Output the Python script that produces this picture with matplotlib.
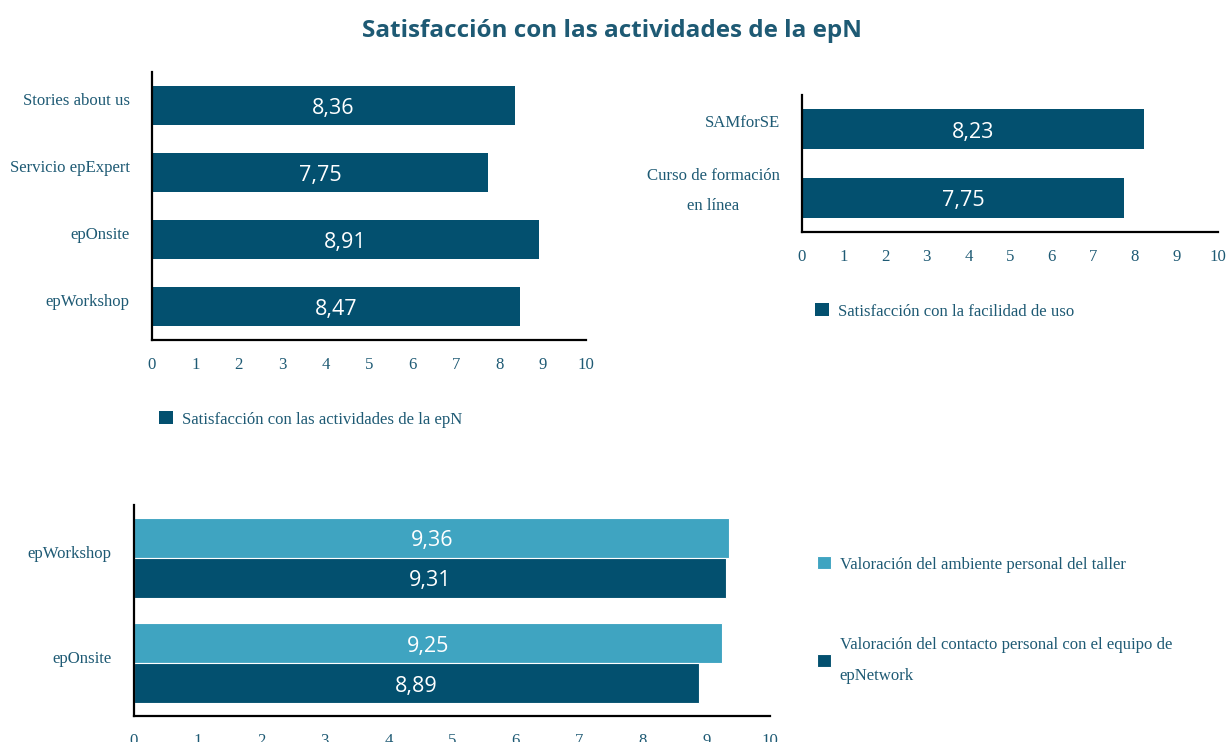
import matplotlib
matplotlib.use("Agg")
import matplotlib.pyplot as plt
from matplotlib.transforms import ScaledTranslation
import numpy as np

# data
act_labels = ["Stories about us", "Servicio epExpert", "epOnsite", "epWorkshop"]
act_values = [8.36, 7.75, 8.91, 8.47]

uso_labels = ["SAMforSE", "Curso de formación\nen línea"]
uso_values = [8.23, 7.75]

taller_labels = ["epWorkshop", "epOnsite"]
ambiente_values = [9.36, 9.25]
contacto_values = [9.31, 8.89]

title = "Satisfacción con las actividades de la epN"
leg1 = "Satisfacción con las actividades de la epN"
leg2 = "Satisfacción con la facilidad de uso"
leg3a = "Valoración del ambiente personal del taller"
leg3b = "Valoración del contacto personal con el equipo de\nepNetwork"

dark = "#03506f"
light = "#3fa4c1"
txt = "#1e5a74"
serif = "Liberation Serif"
sans = "Open Sans"
fs = 12.1

W, H = 1226, 742
fig = plt.figure(figsize=(W / 100, H / 100), dpi=100)


def axes_px(l, t, r, b):
    return fig.add_axes([l / W, 1 - b / H, (r - l) / W, (b - t) / H])


def shift(artist, dy_px):
    artist.set_transform(artist.get_transform() +
                         ScaledTranslation(0, dy_px / 100, fig.dpi_scale_trans))


def style(ax, n, labels, up=6):
    ax.set_xlim(0, 10)
    ax.set_ylim(n - 0.5, -0.5)
    ax.set_xticks(range(11))
    ax.set_yticks(np.arange(n), labels)
    for s in ["top", "right"]:
        ax.spines[s].set_visible(False)
    for s in ["left", "bottom"]:
        ax.spines[s].set_linewidth(1.6)
        ax.spines[s].set_color("black")
    ax.tick_params(length=0, labelsize=fs, labelcolor=txt)
    ax.tick_params(axis="x", pad=12)
    ax.tick_params(axis="y", pad=16)
    for lab in ax.get_xticklabels() + ax.get_yticklabels():
        lab.set_fontfamily(serif)
    for lab in ax.get_yticklabels():
        shift(lab, up)


def bar_labels(ax, bars, vals):
    for b, v in zip(bars, vals):
        t = ax.text(b.get_width() / 2, b.get_y() + b.get_height() / 2,
                    f"{v:.2f}".replace(".", ","), ha="center", va="center",
                    color="white", fontsize=15.5, family=sans)
        shift(t, -3)


# panel 1
ax1 = axes_px(152, 72, 586, 340)
y1 = np.arange(len(act_labels))
b1 = ax1.barh(y1, act_values, height=0.58, color=dark, label=leg1)
style(ax1, len(act_labels), act_labels)
bar_labels(ax1, b1, act_values)

# panel 2
ax2 = axes_px(802, 95, 1218, 232)
y2 = np.arange(len(uso_labels))
b2 = ax2.barh(y2, uso_values, height=0.58, color=dark, label=leg2)
style(ax2, len(uso_labels), uso_labels, up=8)
lab = ax2.get_yticklabels()[1]
lab.set_multialignment("center")
lab.set_linespacing(2.2)
shift(lab, 8)
bar_labels(ax2, b2, uso_values)

# panel 3
ax3 = axes_px(134, 505, 770, 716)
y3 = np.arange(len(taller_labels))
h = 0.38
b3a = ax3.barh(y3 - h / 2, ambiente_values, height=h, color=light,
               edgecolor="white", linewidth=0.8, label=leg3a)
b3b = ax3.barh(y3 + h / 2, contacto_values, height=h, color=dark,
               edgecolor="white", linewidth=0.8, label=leg3b)
style(ax3, len(taller_labels), taller_labels)
bar_labels(ax3, b3a, ambiente_values)
bar_labels(ax3, b3b, contacto_values)

# legends
lp = dict(frameon=False, handlelength=0.85, handleheight=0.85,
          handletextpad=0.5, prop={"family": serif, "size": fs},
          labelcolor=txt, borderaxespad=0, borderpad=0)
fig.legend(handles=[b1], loc="upper left",
           bbox_to_anchor=(159 / W, 1 - 411 / H), **lp)
fig.legend(handles=[b2], loc="upper left",
           bbox_to_anchor=(815 / W, 1 - 303 / H), **lp)
l3 = fig.legend(handles=[b3a, b3b], loc="upper left", labelspacing=3.85,
                bbox_to_anchor=(817 / W, 1 - 556 / H), **lp)
for t in l3.get_texts():
    t.set_linespacing(2.2)

fig.text(612 / W, 1 - 31 / H, title, ha="center", va="center",
         fontsize=17.5, fontweight="bold", color=txt, family=sans)

fig.savefig("out.png", dpi=100)
